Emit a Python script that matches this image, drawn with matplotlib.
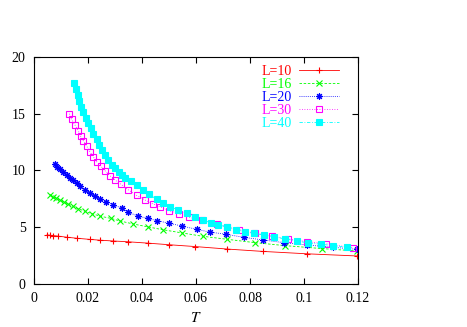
import matplotlib
matplotlib.use('Agg')
import matplotlib.pyplot as plt

plt.rcParams['font.family'] = ['Liberation Serif', 'DejaVu Serif']
plt.rcParams['mathtext.fontset'] = 'stix'

# DATA
t_10 = [0.0048, 0.0059, 0.0070, 0.0089, 0.0122, 0.0159, 0.0207, 0.0244, 0.0293,
        0.0348, 0.0422, 0.0500, 0.0596, 0.0715, 0.0848, 0.1011, 0.1196]
y_10 = [4.32, 4.30, 4.27, 4.22, 4.12, 4.03, 3.93, 3.86, 3.79,
        3.72, 3.60, 3.46, 3.30, 3.08, 2.87, 2.66, 2.47]

t_16 = [0.0059, 0.0070, 0.0081, 0.0096, 0.0111, 0.0126, 0.0144, 0.0163, 0.0189,
        0.0215, 0.0244, 0.0285, 0.0319, 0.0367, 0.0422, 0.0478, 0.0548, 0.0626,
        0.0715, 0.0819, 0.0930, 0.1067, 0.1196]
y_16 = [7.85, 7.70, 7.55, 7.40, 7.20, 7.05, 6.85, 6.65, 6.40,
        6.20, 5.98, 5.78, 5.55, 5.29, 5.03, 4.78, 4.50, 4.20,
        3.94, 3.64, 3.38, 3.12, 2.91]

t_20 = [0.0078, 0.0085, 0.0096, 0.0109, 0.0122, 0.0133, 0.0144, 0.0159, 0.0170,
        0.0189, 0.0207, 0.0226, 0.0244, 0.0267, 0.0293, 0.0325, 0.0349, 0.0386,
        0.0421, 0.0455, 0.0501, 0.0547, 0.0602, 0.0652, 0.0711, 0.0778, 0.0848,
        0.0926, 0.1011, 0.1107, 0.1196]
y_20 = [10.60, 10.30, 10.10, 9.85, 9.60, 9.35, 9.16, 8.87, 8.60,
        8.30, 8.00, 7.75, 7.49, 7.20, 7.00, 6.67, 6.32, 5.98,
        5.78, 5.58, 5.35, 5.11, 4.82, 4.57, 4.38, 4.11, 3.88,
        3.64, 3.44, 3.23, 3.06]

t_30 = [0.0131, 0.0139, 0.0152, 0.0164, 0.0173, 0.0183, 0.0195, 0.0207, 0.0220,
        0.0232, 0.0247, 0.0263, 0.0281, 0.0300, 0.0321, 0.0349, 0.0380, 0.0411,
        0.0442, 0.0467, 0.0501, 0.0538, 0.0575, 0.0621, 0.0677, 0.0715, 0.0760,
        0.0818, 0.0880, 0.0942, 0.1010, 0.1081, 0.1181]
y_30 = [15.00, 14.50, 14.00, 13.50, 13.00, 12.60, 12.16, 11.65, 11.20,
        10.78, 10.40, 9.98, 9.55, 9.16, 8.80, 8.30, 7.80, 7.40,
        7.05, 6.80, 6.46, 6.17, 5.88, 5.60, 5.29, 5.03, 4.78,
        4.47, 4.23, 3.97, 3.73, 3.55, 3.20]

t_40 = [0.0149, 0.0156, 0.0162, 0.0168, 0.0174, 0.0183, 0.0193, 0.0201, 0.0211,
        0.0220, 0.0232, 0.0242, 0.0253, 0.0263, 0.0275, 0.0288, 0.0300, 0.0313,
        0.0325, 0.0338, 0.0358, 0.0380, 0.0402, 0.0427, 0.0454, 0.0479, 0.0504,
        0.0534, 0.0566, 0.0596, 0.0627, 0.0654, 0.0683, 0.0715, 0.0748, 0.0781,
        0.0815, 0.0852, 0.0889, 0.0930, 0.0974, 0.1015, 0.1063, 0.1108, 0.1159]
y_40 = [17.70, 17.18, 16.65, 16.12, 15.62, 15.13, 14.65, 14.16, 13.72,
        13.22, 12.75, 12.25, 11.80, 11.37, 10.93, 10.50, 10.19, 9.84,
        9.60, 9.30, 9.05, 8.72, 8.28, 7.90, 7.46, 7.16, 6.81,
        6.52, 6.23, 5.87, 5.62, 5.40, 5.20, 5.03, 4.80, 4.60,
        4.46, 4.32, 4.15, 3.97, 3.79, 3.62, 3.50, 3.38, 3.23]

series = [
    ('L=10', t_10, y_10, '#ff0000', '-', '+', 'none'),
    ('L=16', t_16, y_16, '#00ff00', (0, (3, 2)), 'x', 'none'),
    ('L=20', t_20, y_20, '#0000ff', (0, (1, 1.5)), (8, 2, 0), 'none'),
    ('L=30', t_30, y_30, '#ff00ff', (0, (1, 2)), 's', 'none'),
    ('L=40', t_40, y_40, '#00ffff', (0, (4, 2, 1, 2)), 's', 'full'),
]

fig = plt.figure(figsize=(4.67, 3.27), dpi=100)
ax = fig.add_axes([0.0728, 0.1315, 0.6938, 0.6942])

for label, t, y, c, ls, mk, fill in series:
    ms = 4.8 if mk != 's' else 4.3
    ax.plot(t, y, color=c, linestyle=ls, linewidth=0.6, marker=mk,
            markersize=ms, fillstyle=fill, markeredgewidth=0.8,
            markerfacecolor=c if fill == 'full' else 'none', label=label)

ax.set_xlim(0, 0.12)
ax.set_ylim(0, 20)
ax.set_xticks([0, 0.02, 0.04, 0.06, 0.08, 0.1, 0.12])
ax.set_xticklabels(['0', '0.02', '0.04', '0.06', '0.08', '0.1', '0.12'])
ax.set_yticks([0, 5, 10, 15, 20])
ax.tick_params(direction='in', top=True, right=True, length=4, width=0.8,
               labelsize=10, pad=6)
for s in ax.spines.values():
    s.set_linewidth(0.8)

ax.set_xlabel('$T$', fontsize=11, labelpad=4)
# the y label sits mostly outside the figure, as in the original
ax.set_ylabel('$\\xi/L$', fontsize=11)
ax.yaxis.set_label_coords(-0.118, 0.5)

leg = ax.legend(loc='upper right', bbox_to_anchor=(0.968, 1.0), frameon=False,
                markerfirst=False, labelcolor='linecolor', fontsize=10,
                handlelength=2.9, handletextpad=0.5, labelspacing=0.0,
                borderaxespad=0.3, borderpad=0.3)

fig.savefig('out.png', dpi=100)
